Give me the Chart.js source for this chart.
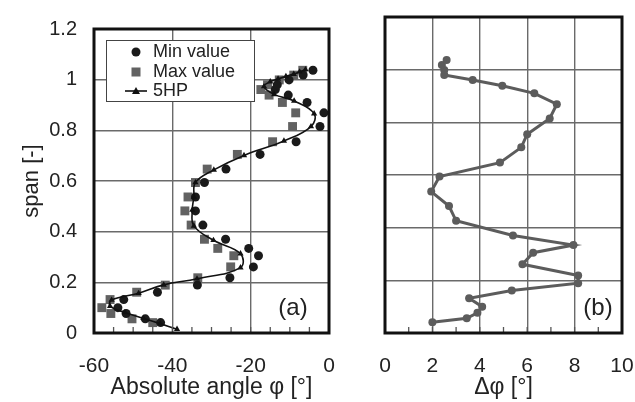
<!DOCTYPE html>
<html>
<head>
<meta charset="utf-8">
<script src="https://cdn.jsdelivr.net/npm/chart.js@4.4.1/dist/chart.umd.min.js"></script>
<style>
  html, body { margin: 0; padding: 0; background: #fff; }
  #wrap { position: relative; width: 635px; height: 402px; }
  #left { position: absolute; left: 0; top: 0; }
  #right { position: absolute; left: 340px; top: 0; }
</style>
</head>
<body>
<div id="wrap">
  <canvas id="left" width="340" height="402"></canvas>
  <canvas id="right" width="295" height="402"></canvas>
</div>
<script>
// span positions shared by min / max / delta
const span = [0.041, 0.056, 0.077, 0.100, 0.132, 0.161, 0.189, 0.218, 0.261, 0.305,
              0.334, 0.370, 0.426, 0.482, 0.537, 0.594, 0.647, 0.705, 0.755, 0.815,
              0.869, 0.910, 0.939, 0.961, 0.980, 0.999, 1.018, 1.037];
const minValue = [-43.0, -46.9, -51.8, -53.9, -52.4, -43.8, -33.6, -25.3, -19.3, -18.0,
                  -20.5, -26.4, -32.2, -34.1, -34.1, -31.8, -26.3, -17.6, -8.4, -2.3,
                  -1.3, -5.6, -10.4, -13.7, -13.2, -10.2, -6.6, -4.1];
const maxValue = [-45.0, -50.3, -55.7, -58.0, -55.9, -49.1, -41.8, -33.5, -25.1, -24.3,
                  -28.4, -31.8, -35.2, -36.8, -36.0, -34.1, -31.1, -23.4, -14.4, -9.3,
                  -8.5, -11.9, -15.3, -17.4, -15.7, -12.7, -9.0, -6.7];
const deltaPhi = [2.0, 3.45, 3.9, 4.1, 3.55, 5.35, 8.15, 8.15, 5.8, 6.25,
                  7.95, 5.4, 3.0, 2.7, 1.95, 2.3, 4.85, 5.75, 6.0, 6.95,
                  7.25, 6.3, 4.95, 3.7, 2.5, 2.5, 2.4, 2.6];

// 5HP probe traverse
const hpSpan = [0.015, 0.037, 0.058, 0.081, 0.106, 0.130, 0.157, 0.190, 0.214, 0.258,
                0.313, 0.366, 0.423, 0.486, 0.537, 0.594, 0.644, 0.701, 0.758, 0.815,
                0.866, 0.916, 0.942, 0.973, 0.992, 1.003, 1.013, 1.022, 1.031, 1.040];
const hpAngle = [-38.8, -43.1, -47.4, -52.1, -55.9, -55.5, -48.6, -42.2, -33.7, -22.6,
                 -22.6, -29.5, -34.5, -34.9, -34.5, -34.1, -29.4, -21.7, -11.5, -4.6,
                 -3.8, -8.9, -14.0, -16.6, -15.0, -13.0, -11.0, -9.0, -7.5, -6.0];

const spanTicks = [0, 0.2, 0.4, 0.6, 0.8, 1.0, 1.2];

Chart.defaults.font.family = '"Liberation Sans", Arial, sans-serif';
Chart.defaults.color = '#222';

const pts = (xs, ys) => xs.map((v, i) => ({ x: v, y: ys[i] }));
const gridStyle = { color: '#6a6a6a', lineWidth: 1.4, drawTicks: false };
// invisible tick marks only push the x labels down
const xGridStyle = { color: '#6a6a6a', lineWidth: 1.4, drawTicks: true, tickLength: 21, tickColor: 'rgba(0,0,0,0)' };

const framePlugin = {
  id: 'frame',
  afterDraw(chart, args, opts) {
    const { ctx, chartArea: a } = chart;
    const x = chart.scales.x;
    ctx.save();
    ctx.strokeStyle = '#555';
    ctx.lineWidth = 1.3;
    for (let v = opts.min + opts.step; v < opts.max; v += opts.step) {
      const px = x.getPixelForValue(v);
      ctx.beginPath();
      ctx.moveTo(px, a.bottom);
      ctx.lineTo(px, a.bottom - 6);
      ctx.stroke();
    }
    ctx.strokeStyle = '#111';
    ctx.lineWidth = 3;
    ctx.strokeRect(a.left, a.top, a.right - a.left, a.bottom - a.top);
    ctx.font = '24px "Liberation Sans", Arial, sans-serif';
    ctx.fillStyle = '#222';
    ctx.textAlign = 'center';
    ctx.textBaseline = 'middle';
    ctx.fillText(opts.tag, a.right - opts.tagDx, a.bottom - 25);
    ctx.restore();
  }
};

const legendPlugin = {
  id: 'boxLegend',
  afterDraw(chart) {
    const { ctx, chartArea: a } = chart;
    const x0 = a.left + 12, y0 = a.top + 11;
    ctx.save();
    ctx.fillStyle = '#fff';
    ctx.fillRect(x0, y0, 149, 62);
    ctx.strokeStyle = '#444';
    ctx.lineWidth = 1;
    ctx.strokeRect(x0 + 0.5, y0 + 0.5, 148, 61);
    const mx = a.left + 42;
    // circle
    ctx.fillStyle = '#1a1a1a';
    ctx.beginPath();
    ctx.arc(mx, a.top + 23, 4.5, 0, Math.PI * 2);
    ctx.fill();
    // square
    ctx.fillStyle = '#626262';
    ctx.fillRect(mx - 4.5, a.top + 43 - 4.5, 9, 9);
    // line + triangle
    ctx.strokeStyle = '#111';
    ctx.lineWidth = 1.6;
    ctx.beginPath();
    ctx.moveTo(a.left + 31, a.top + 62);
    ctx.lineTo(a.left + 53, a.top + 62);
    ctx.stroke();
    ctx.fillStyle = '#111';
    ctx.beginPath();
    ctx.moveTo(mx, a.top + 58);
    ctx.lineTo(mx + 4, a.top + 65);
    ctx.lineTo(mx - 4, a.top + 65);
    ctx.closePath();
    ctx.fill();
    ctx.fillStyle = '#222';
    ctx.font = '18px "Liberation Sans", Arial, sans-serif';
    ctx.textAlign = 'left';
    ctx.textBaseline = 'middle';
    ctx.fillText('Min value', a.left + 59, a.top + 23);
    ctx.fillText('Max value', a.left + 59, a.top + 43);
    ctx.fillText('5HP', a.left + 59, a.top + 62);
    ctx.restore();
  }
};

new Chart(document.getElementById('left'), {
  type: 'scatter',
  data: {
    datasets: [
      {
        label: '5HP',
        data: pts(hpAngle, hpSpan),
        showLine: true,
        tension: 0.4,
        borderColor: '#111',
        borderWidth: 1.6,
        pointStyle: 'triangle',
        pointRadius: 3.6,
        backgroundColor: '#111',
        pointBorderWidth: 0,
        order: 1
      },
      {
        label: 'Min value',
        data: pts(minValue, span),
        pointStyle: 'circle',
        pointRadius: 4.5,
        backgroundColor: '#1a1a1a',
        pointBorderWidth: 0,
        order: 2
      },
      {
        label: 'Max value',
        data: pts(maxValue, span),
        pointStyle: 'rect',
        pointRadius: 6.3,
        backgroundColor: '#626262',
        pointBorderWidth: 0,
        order: 3
      }
    ]
  },
  options: {
    responsive: false,
    animation: false,
    layout: { padding: { top: 17, right: 11, bottom: 0, left: 0 } },
    plugins: {
      legend: { display: false },
      tooltip: { enabled: false },
      frame: { min: -60, max: 0, step: 5, tag: '(a)', tagDx: 36 }
    },
    scales: {
      x: {
        min: -60, max: 0,
        ticks: { stepSize: 20, font: { size: 21 }, padding: 0 },
        grid: xGridStyle,
        border: { display: false },
        title: { display: true, text: 'Absolute angle φ [°]', font: { size: 23 }, padding: { top: 0, bottom: 1 } },
        afterFit: s => { s.height = 69; }
      },
      y: {
        min: 0, max: 1.2,
        afterBuildTicks: s => { s.ticks = spanTicks.map(v => ({ value: v })); },
        ticks: { font: { size: 20 }, padding: 17, callback: v => String(Math.round(v * 10) / 10) },
        grid: gridStyle,
        border: { display: false },
        title: { display: true, text: 'span [-]', font: { size: 22 }, padding: { top: 19, bottom: 0 } },
        afterFit: s => { s.width = 94; }
      }
    }
  },
  plugins: [framePlugin, legendPlugin]
});

new Chart(document.getElementById('right'), {
  type: 'scatter',
  data: {
    datasets: [{
      label: 'Δφ',
      data: pts(deltaPhi, span),
      showLine: true,
      borderColor: '#5c5c5c',
      borderWidth: 3,
      pointStyle: 'circle',
      pointRadius: 4,
      backgroundColor: '#5c5c5c',
      pointBorderWidth: 0
    }]
  },
  options: {
    responsive: false,
    animation: false,
    layout: { padding: { top: 17, right: 13, bottom: 0, left: 0 } },
    plugins: {
      legend: { display: false },
      tooltip: { enabled: false },
      frame: { min: 0, max: 10, step: 1, tag: '(b)', tagDx: 24 }
    },
    scales: {
      x: {
        min: 0, max: 10,
        ticks: { stepSize: 2, font: { size: 21 }, padding: 0 },
        grid: xGridStyle,
        border: { display: false },
        title: { display: true, text: 'Δφ [°]', font: { size: 23 }, padding: { top: 0, bottom: 1 } },
        afterFit: s => { s.height = 69; }
      },
      y: {
        min: 0, max: 1.2,
        afterBuildTicks: s => { s.ticks = spanTicks.map(v => ({ value: v })); },
        ticks: { display: false },
        grid: gridStyle,
        border: { display: false },
        afterFit: s => { s.width = 45; }
      }
    }
  },
  plugins: [framePlugin]
});
</script>
</body>
</html>
